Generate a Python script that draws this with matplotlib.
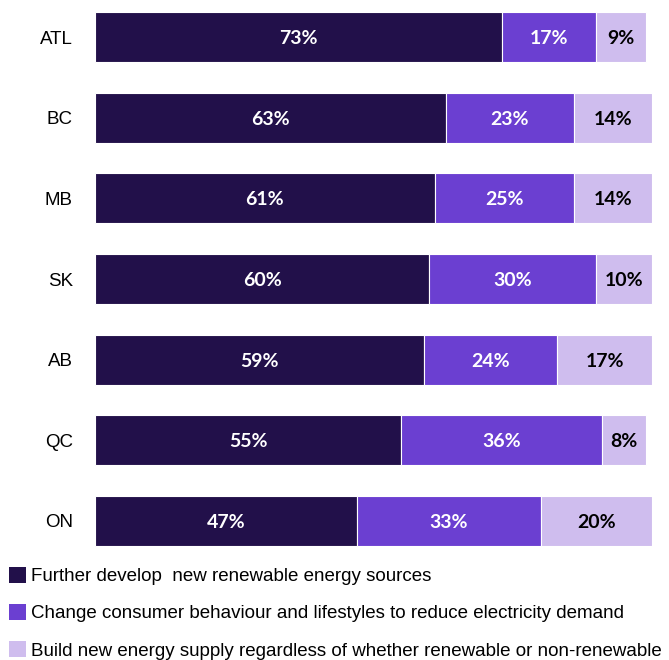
import matplotlib
matplotlib.use("Agg")
import matplotlib.pyplot as plt
from matplotlib.patches import Patch

regions = ["ATL", "BC", "MB", "SK", "AB", "QC", "ON"]
develop = [73, 63, 61, 60, 59, 55, 47]
change = [17, 23, 25, 30, 24, 36, 33]
build = [9, 14, 14, 10, 17, 8, 20]
series_names = [
    "Further develop  new renewable energy sources",
    "Change consumer behaviour and lifestyles to reduce electricity demand",
    "Build new energy supply regardless of whether renewable or non-renewable",
]
colors = ["#22104a", "#6b3fd1", "#cfbdee"]
label_colors = ["white", "white", "black"]

fig = plt.figure(figsize=(6.69, 6.60), dpi=100)
ax = fig.add_axes([95 / 669, 1 - 549.2 / 660, 557 / 669, (549.2 - 8.8) / 660])

ypos = list(range(len(regions)))
left = [0] * len(regions)
for vals, col, lc in zip([develop, change, build], colors, label_colors):
    bars = ax.barh(ypos, vals, left=left, height=0.62, color=col,
                   edgecolor="white", linewidth=0.8)
    for b, v in zip(bars, vals):
        ax.text(b.get_x() + b.get_width() / 2, b.get_y() + b.get_height() / 2,
                f"{v}%", ha="center", va="center_baseline", color=lc,
                fontsize=14, fontweight="bold", family=["Lato", "DejaVu Sans"])
    left = [l + v for l, v in zip(left, vals)]

ax.set_xlim(0, 100)
ax.set_ylim(6.35, -0.35)
ax.set_yticks(ypos)
ax.set_yticklabels(regions, fontsize=13.5, family=["Liberation Sans", "DejaVu Sans"])
ax.tick_params(axis="y", length=0, pad=16)
ax.set_xticks([])
for s in ax.spines.values():
    s.set_visible(False)

# fit legend font so the longest entry spans ~636 px like the reference
renderer = fig.canvas.get_renderer()
probe = fig.text(0, 0, series_names[2], fontsize=10, family=["Liberation Sans", "DejaVu Sans"])
w10 = probe.get_window_extent(renderer).width
probe.remove()
leg_size = 10 * 636 / w10

handles = [Patch(facecolor=c, edgecolor="none") for c in colors]
fig.legend(handles, series_names, loc="upper left", bbox_to_anchor=(0.013, 1 - 567 / 660),
           frameon=False, handlelength=0.9, handleheight=0.9, handletextpad=0.3,
           labelspacing=1.0, borderaxespad=0, borderpad=0,
           prop={"family": ["Liberation Sans", "DejaVu Sans"], "size": leg_size})

fig.savefig("out.png", dpi=100)
